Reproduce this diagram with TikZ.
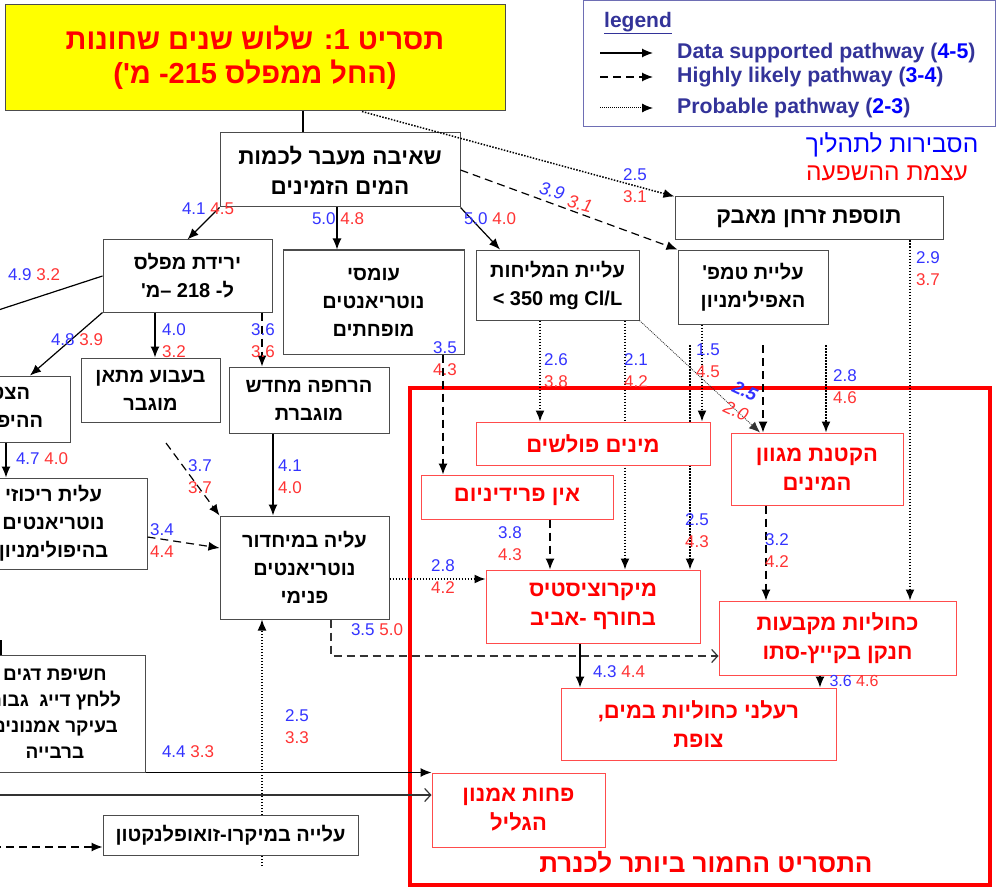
\documentclass[tikz,border=0pt]{standalone}
\usepackage{fontspec}
\setmainfont{Liberation Sans}
\newfontfamily\hebfont[Script=Hebrew]{Liberation Sans}
\TeXXeTstate=1
\usetikzlibrary{arrows.meta, backgrounds}

\definecolor{probblue}{RGB}{51,51,255}
\definecolor{impred}{RGB}{255,51,51}
\definecolor{legnavy}{RGB}{51,51,153}
\definecolor{legframe}{RGB}{110,110,180}
\definecolor{titleyellow}{RGB}{255,255,0}
\definecolor{scenred}{RGB}{255,0,0}

\newcommand{\heb}[1]{{\hebfont\beginR #1\endR}}
\newcommand{\pv}[2]{\textcolor{probblue}{#1} \textcolor{impred}{#2}}
\newcommand{\pvs}[2]{\textcolor{probblue}{#1}\\\textcolor{impred}{#2}}

\begin{document}
\begin{tikzpicture}[x=1pt, y=-1pt,
    box/.style={draw=black!70, line width=1pt, fill=white, align=center,
        font=\hebfont\bfseries\fontsize{20}{28}\selectfont, inner sep=1pt},
    bigbox/.style={box, font=\hebfont\bfseries\fontsize{22.5}{30}\selectfont},
    redbox/.style={box, draw=red!70, text=scenred,
        font=\hebfont\bfseries\fontsize{22}{29}\selectfont},
    num/.style={font=\fontsize{17}{22}\selectfont, inner sep=0pt},
    numst/.style={num, align=left, anchor=west},
    slant/.style={num, font=\itshape\fontsize{18}{20}\selectfont},
    arr/.style={line width=1.2pt, -{Latex[length=11pt,width=9pt]}},
    dasharr/.style={arr, dash pattern=on 8pt off 5pt},
    dotarr/.style={arr, line width=1.5pt, dash pattern=on 1.5pt off 1.5pt},
    openarr/.style={line width=1.2pt, -{Straight Barb[length=6pt,width=13pt]}},
    legtext/.style={anchor=west, inner sep=0pt, text=legnavy,
        font=\bfseries\fontsize{21.3}{24}\selectfont}
]
\useasboundingbox (0,0) rectangle (997,888);

% legend
\draw[legframe, line width=1pt] (583,1) rectangle (995,127);
\node[legtext, font=\bfseries\fontsize{21}{24}\selectfont] (leghead) at (604,23) {\underline{legend}};
\node[legtext] (legdata) at (677,53) {Data supported pathway (\textcolor{blue}{4-5})};
\node[legtext] (leglikely) at (677,77) {Highly likely pathway (\textcolor{blue}{3-4})};
\node[legtext] (legprob) at (677,108) {Probable pathway (\textcolor{blue}{2-3})};
\draw[arr] ([xshift=-77pt]legdata.west) -- ([xshift=-24pt]legdata.west);
\draw[dasharr] ([xshift=-77pt]leglikely.west) -- ([xshift=-24pt]leglikely.west);
\draw[dotarr, line width=1pt, dash pattern=on 1pt off 1pt] ([xshift=-77pt]legprob.west) -- ([xshift=-24pt]legprob.west);

\node[font=\hebfont\fontsize{24.5}{28}\selectfont, text=blue] (keyprob) at (892,145) {\heb{הסבירות לתהליך}};
\node[font=\hebfont\fontsize{24.5}{28}\selectfont, text=scenred] (keyimp) at (887,173) {\heb{עצמת ההשפעה}};

% scenario frame
\draw[scenred, line width=3.5pt] (410,388) rectangle (990,885);
\node[text=scenred, font=\hebfont\bfseries\fontsize{26}{30}\selectfont] (frametitle) at (706,862) {\heb{התסריט החמור ביותר לכנרת}};

% boxes
\node[box, fill=titleyellow, text=scenred, minimum width=500, minimum height=106,
    font=\hebfont\bfseries\fontsize{29}{34}\selectfont] (title) at (255,58)
    {\heb{תסריט 1: שלוש שנים שחונות}\\\heb{(החל ממפלס 215- מ')}};
\node[bigbox, minimum width=240, minimum height=74] (pump) at (340,170) {\heb{שאיבה מעבר לכמות}\\\heb{המים הזמינים}};
\node[bigbox, minimum width=268, minimum height=43] (dust) at (809,218.5) {\heb{תוספת זרחן מאבק}};
\node[box, minimum width=169, minimum height=72] (level) at (187.5,276) {\heb{ירידת מפלס}\\\heb{ל- 218 –מ'}};
\node[box, minimum width=181, minimum height=104] (loads) at (373.5,302) {\heb{עומסי}\\\heb{נוטריאנטים}\\\heb{מופחתים}};
\node[box, minimum width=163, minimum height=70] (salin) at (557.5,285) {\heb{עליית המליחות}\\> 350 mg Cl/L};
\node[box, minimum width=150, minimum height=74] (temp) at (753,287) {\heb{עליית טמפ'}\\\heb{האפילימניון}};
\node[box, minimum width=164, minimum height=66] (hypo) at (-12,409) {\heb{הצטברות}\\\heb{ההיפולימניון}};
\node[box, minimum width=139, minimum height=64] (methane) at (150.5,390) {\heb{בעבוע מתאן}\\\heb{מוגבר}};
\node[box, minimum width=160, minimum height=66] (resusp) at (309,400) {\heb{הרחפה מחדש}\\\heb{מוגברת}};
\node[box, minimum width=187, minimum height=91] (hyponut) at (53.5,523.5) {\heb{עלית ריכוזי}\\\heb{נוטריאנטים}\\\heb{בהיפולימניון}};
\node[box, minimum width=169, minimum height=103] (recyc) at (304.5,567.5) {\heb{עליה במיחדור}\\\heb{נוטריאנטים}\\\heb{פנימי}};
\node[box, minimum width=180, minimum height=117, font=\hebfont\bfseries\fontsize{19}{26}\selectfont] (fish) at (55,713.5)
    {\heb{חשיפת דגים}\\\heb{ללחץ דייג\ \ גבוה}\\\heb{בעיקר אמנונים}\\\heb{ברבייה}};
\node[box, minimum width=255, minimum height=40] (zoo) at (230.5,835) {\heb{עלייה במיקרו-זואופלנקטון}};
\node[redbox, minimum width=234, minimum height=43] (invasive) at (593,443.5) {\heb{מינים פולשים}};
\node[redbox, minimum width=172, minimum height=72] (diversity) at (817,469) {\heb{הקטנת מגוון}\\\heb{המינים}};
\node[redbox, minimum width=192, minimum height=44] (perid) at (517,497) {\heb{אין פרידיניום}};
\node[redbox, minimum width=214, minimum height=73] (micro) at (593,606.5) {\heb{מיקרוציסטיס}\\\heb{בחורף -אביב}};
\node[redbox, minimum width=237, minimum height=74] (nfix) at (837.5,638) {\heb{כחוליות מקבעות}\\\heb{חנקן בקייץ-סתו}};
\node[redbox, minimum width=275, minimum height=72] (toxin) at (698.5,724) {\heb{רעלני כחוליות במים,}\\\heb{צופת}};
\node[redbox, minimum width=173, minimum height=74] (tilapia) at (518.5,810) {\heb{פחות אמנון}\\\heb{הגליל}};

% free ends
\coordinate (offlevel) at (-20,316);
\coordinate (methout) at (166,443);
\coordinate (tempa) at (690,345);
\coordinate (tempb) at (763,345);
\coordinate (tempc) at (826,345);
\coordinate (zoolow) at (262,866);
\coordinate (offfish) at (-20,795);
\coordinate (offzoo) at (-20,847);
\coordinate (stub) at (1,640);

% connectors
\draw[line width=1.2pt] (title.south -| 303,0) -- (pump.north -| 303,0);
\draw[dotarr] (title.south -| 362,0) -- (dust.north west);
\draw[arr] (pump.south west) -- (level.north);
\draw[arr] (pump.south -| 337,0) -- (loads.north -| 337,0);
\draw[arr] (pump.south east) -- (salin.north -| 500,0);
\draw[dasharr] (pump.east) -- (temp.north west);
\draw[line width=1.2pt] (level.west) -- (offlevel);
\draw[arr] (level.south west) -- (hypo.north -| 30,0);
\draw[arr] (level.south -| 155,0) -- (methane.north -| 155,0);
\draw[dasharr] (level.south -| 262,0) -- (resusp.north -| 262,0);
\draw[arr] (hypo.south -| 6,0) -- (hyponut.north -| 6,0);
\draw[dasharr] (methout) -- (recyc.north west);
\draw[arr] (resusp.south -| 273,0) -- (recyc.north -| 273,0);
\draw[dasharr] (hyponut.east |- 0,537) -- (recyc.west |- 0,548);
\draw[dasharr] (loads.south -| 443,0) -- (perid.north -| 443,0);
\draw[dotarr] (salin.south -| 540,0) -- (invasive.north -| 540,0);
\draw[arr, line width=0.8pt, dash pattern=on 1pt off 1pt, black!80] (salin.south east) -- (diversity.north -| 760,0);
\draw[dotarr] (temp.south -| 702,0) -- (invasive.north -| 702,0);
\draw[dasharr] (tempb) -- (diversity.north -| tempb);
\draw[dotarr] (tempc) -- (diversity.north -| tempc);
\draw[dotarr] (dust.south -| 910,0) -- (nfix.north -| 910,0);
\draw[dasharr] (perid.south -| 550,0) -- (micro.north -| 550,0);
\draw[dasharr] (diversity.south -| 766,0) -- (nfix.north -| 766,0);
\draw[dotarr] (recyc.east |- 0,579) -- (micro.west |- 0,579);
\draw[arr] (micro.south -| 580,0) -- (toxin.north -| 580,0);
\draw[arr] (nfix.south -| 820,0) -- (toxin.north -| 820,0);
\draw[openarr, dash pattern=on 8pt off 5pt, black!80] (recyc.south -| 331,0) |- (nfix.west |- 0,656);
\draw[arr] (fish.south east) -- (tilapia.north west);
\draw[openarr, black!80] (offfish) -- (tilapia.west |- offfish);
\draw[dasharr] (offzoo) -- (zoo.west |- offzoo);
\draw[line width=1.2pt] (stub) -- (stub |- fish.north);
\begin{pgfonlayer}{background}
\draw[dotarr] (salin.south -| 625,0) -- (micro.north -| 625,0);
\draw[dotarr] (tempa) -- (micro.north -| tempa);
\draw[dotarr] (zoolow) -- (recyc.south -| zoolow);
\end{pgfonlayer}

% probability / impact values
\node[numst] (vb) at (623,186) {\pvs{2.5}{3.1}};
\node[num] (vc) at (208,209) {\pv{4.1}{4.5}};
\node[num] (vd) at (338,219) {\pv{5.0}{4.8}};
\node[num] (ve) at (490,219) {\pv{5.0}{4.0}};
\node[slant, text=probblue, rotate=-15] (vf1) at (552,191) {3.9};
\node[slant, text=impred, rotate=-15] (vf2) at (580,204) {3.1};
\node[num] (vg) at (34,275) {\pv{4.9}{3.2}};
\node[num] (vh) at (77,340) {\pv{4.8}{3.9}};
\node[numst] (vi) at (162,341) {\pvs{4.0}{3.2}};
\node[num] (vj) at (42,459) {\pv{4.7}{4.0}};
\node[numst] (vk) at (188,477) {\pvs{3.7}{3.7}};
\node[numst] (vl) at (278,477) {\pvs{4.1}{4.0}};
\node[numst] (vm) at (150,541) {\pvs{3.4}{4.4}};
\node[numst] (vn) at (251,341) {\pvs{3.6}{3.6}};
\node[numst] (vo) at (433,359) {\pvs{3.5}{4.3}};
\node[numst] (vp) at (544,371) {\pvs{2.6}{3.8}};
\node[numst] (vq) at (624,371) {\pvs{2.1}{4.2}};
\node[slant, text=probblue, font=\bfseries\itshape\fontsize{18}{20}\selectfont, rotate=-25] (vr1) at (745,391) {2.5};
\node[slant, text=impred, rotate=-25] (vr2) at (736,411) {2.0};
\node[numst] (vs) at (696,361) {\pvs{1.5}{4.5}};
\node[numst] (vt) at (685,531) {\pvs{2.5}{4.3}};
\node[numst] (vv) at (833,387) {\pvs{2.8}{4.6}};
\node[numst] (vw) at (916,269) {\pvs{2.9}{3.7}};
\node[numst] (vx) at (498,544) {\pvs{3.8}{4.3}};
\node[num] (vz) at (619,672) {\pv{4.3}{4.4}};
\node[num, font=\fontsize{16}{18}\selectfont] (vaa) at (854,681) {\pv{3.6}{4.6}};
\node[numst] (vbb) at (765,551) {\pvs{3.2}{4.2}};
\node[numst] (vcc) at (431,577) {\pvs{2.8}{4.2}};
\node[num] (vdd) at (377,630) {\pv{3.5}{5.0}};
\node[numst] (vee) at (285,727) {\pvs{2.5}{3.3}};
\node[num] (vff) at (188,752) {\pv{4.4}{3.3}};
\end{tikzpicture}
\end{document}
